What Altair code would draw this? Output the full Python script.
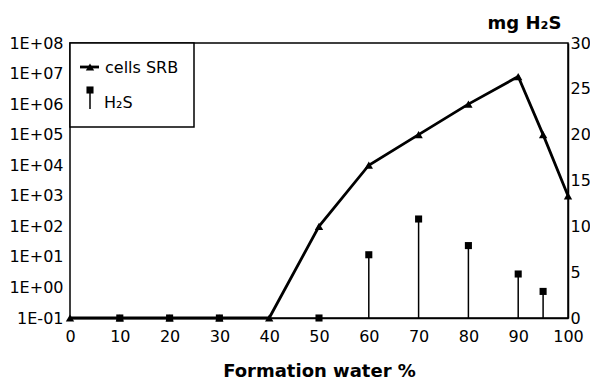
import altair as alt
import pandas as pd

# ---- data ----
water_pct = [0, 10, 20, 30, 40, 50, 60, 70, 80, 90, 95, 100]
cells_srb = [0.1, 0.1, 0.1, 0.1, 0.1, 1e2, 1e4, 1e5, 1e6, 8e6, 1e5, 1e3]

h2s_pct = [10, 20, 30, 50, 60, 70, 80, 90, 95]
h2s_mg = [0, 0, 0, 0, 6.9, 10.8, 7.9, 4.8, 2.9]

x_ticks = [0, 10, 20, 30, 40, 50, 60, 70, 80, 90, 100]
log_ticks = [1e-1, 1e0, 1e1, 1e2, 1e3, 1e4, 1e5, 1e6, 1e7, 1e8]
h2s_ticks = [0, 5, 10, 15, 20, 25, 30]

cells_df = pd.DataFrame({"water": water_pct, "cells": cells_srb})
h2s_df = pd.DataFrame({"water": h2s_pct, "h2s": h2s_mg})

FONT = "DejaVu Sans"
W, H = 498, 275

E = "round(log(datum.value)/LN10)"
log_label = ("'1E' + (" + E + " < 0 ? '-' : '+') + (abs(" + E + ") < 10 ? '0' : '') + abs(" + E + ")")

x_enc = alt.X(
    "water:Q",
    scale=alt.Scale(domain=[0, 100], nice=False, zero=False),
    axis=alt.Axis(values=x_ticks, title="Formation water %", labelPadding=10,
                  labelBaseline="top", titleFontSize=18, titleFontWeight="bold",
                  titlePadding=18, labelFlush=False, labelOverlap=False),
)

# ---- cells SRB (left log axis) ----
y_left = alt.Y(
    "cells:Q",
    scale=alt.Scale(type="log", domain=[0.1, 1e8], nice=False),
    axis=alt.Axis(orient="left", values=log_ticks, labelExpr=log_label, title=None,
                  labelPadding=7, domain=False, labelFlush=False, labelOverlap=False),
)
cells_line = alt.Chart(cells_df).mark_line(color="black", strokeWidth=2.8).encode(x=x_enc, y=y_left)
cells_pts = alt.Chart(cells_df).mark_point(shape="triangle-up", filled=True, size=70,
                                             color="black", opacity=1).encode(x=x_enc, y=y_left)
left = alt.layer(cells_line, cells_pts)

# ---- H2S (right linear axis) ----
y_right = alt.Y(
    "h2s:Q",
    scale=alt.Scale(domain=[0, 30], nice=False),
    axis=alt.Axis(orient="right", values=h2s_ticks, title="mg H\u2082S", titleAngle=0,
                  titleX=-44, titleY=-20, titleAlign="center", titleBaseline="middle",
                  titleFontSize=18, titleFontWeight="bold", labelPadding=2,
                  labelFlush=False, labelOverlap=False),
)
stems = alt.Chart(h2s_df).mark_rule(color="black", strokeWidth=1.5).encode(
    x=x_enc, y=y_right, y2=alt.datum(0))
squares = alt.Chart(h2s_df).mark_point(shape="square", filled=True, size=50,
                                         color="black", opacity=1).encode(x=x_enc, y=y_right)
right = alt.layer(stems, squares)

# ---- legend box ----
one = alt.Chart(pd.DataFrame({"k": [0]}))
box = one.mark_rect(fill="white", stroke="black", strokeWidth=1.5).encode(
    x=alt.value(0), x2=alt.value(124), y=alt.value(0), y2=alt.value(84))
leg_line = one.mark_rule(color="black", strokeWidth=2.8).encode(
    x=alt.value(10), x2=alt.value(29), y=alt.value(24))
leg_tri = one.mark_point(shape="triangle-up", filled=True, size=70, color="black", opacity=1).encode(
    x=alt.value(20), y=alt.value(24))
leg_txt1 = one.mark_text(align="left", baseline="middle", font=FONT, fontSize=16, color="black").encode(
    x=alt.value(35), y=alt.value(25), text=alt.value("cells SRB"))
leg_stem = one.mark_rule(color="black", strokeWidth=1.5).encode(
    x=alt.value(20), y=alt.value(47), y2=alt.value(66))
leg_sq = one.mark_point(shape="square", filled=True, size=50, color="black", opacity=1).encode(
    x=alt.value(20), y=alt.value(47))
leg_txt2 = one.mark_text(align="left", baseline="middle", font=FONT, fontSize=16, color="black").encode(
    x=alt.value(34), y=alt.value(60), text=alt.value("H\u2082S"))

chart = alt.layer(
    left, right, box, leg_line, leg_tri, leg_txt1, leg_stem, leg_sq, leg_txt2
).resolve_scale(y="independent").properties(
    width=W, height=H,
    autosize=alt.AutoSizeParams(type="none"),
    padding={"left": 62, "top": 35, "right": 22, "bottom": 66},
).configure_view(
    stroke="black", strokeWidth=1.5
).configure_axis(
    grid=False, ticks=False, domainColor="black", domainWidth=1.5,
    labelFont=FONT, labelFontSize=16, labelColor="black",
    titleFont=FONT, titleColor="black",
)

chart.save("out.html", embed_options={"renderer": "svg", "actions": False})
